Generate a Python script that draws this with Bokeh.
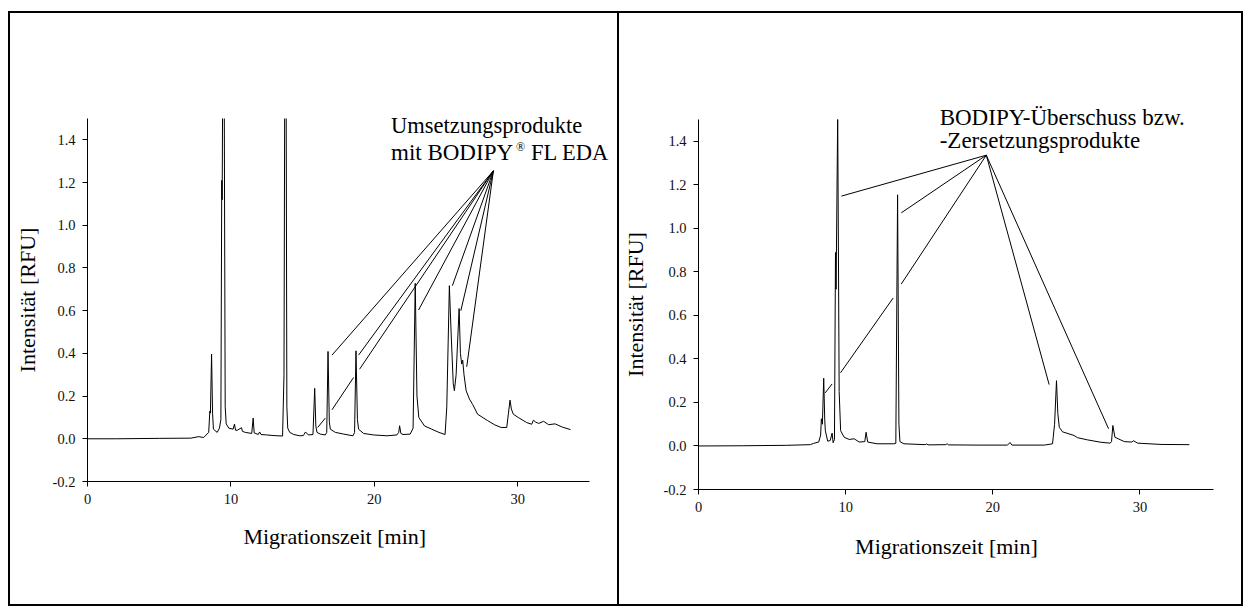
from bokeh.plotting import figure
from bokeh.models import FixedTicker, NumeralTickFormatter, Label, Range1d
from bokeh.embed import file_html
from bokeh.resources import INLINE

# ---------------- data ----------------
x_ticks = [0, 10, 20, 30]
y_ticks = [-0.2, 0.0, 0.2, 0.4, 0.6, 0.8, 1.0, 1.2, 1.4]

# left electropherogram (time [min], intensity [RFU])
left_t = [0.0, 2.0, 5.0, 7.2, 7.75, 8.1, 8.45, 8.53, 8.57, 8.65, 8.72, 8.78, 9.04, 9.2, 9.3,
          9.36, 9.39, 9.44, 9.52, 9.6, 9.67, 9.85, 10.15, 10.25, 10.32, 10.44, 10.74, 10.8,
          11.0, 11.45, 11.55, 11.62, 11.9, 12.0, 12.1, 12.5, 13.0, 13.6, 13.7, 13.76, 13.84,
          13.9, 13.96, 14.1, 14.38, 14.8, 15.05, 15.2, 15.4, 15.72, 15.84, 15.92, 16.0, 16.23,
          16.58, 16.68, 16.77, 16.86, 16.93, 17.28, 17.86, 18.51, 18.62, 18.72, 18.82, 18.9,
          19.25, 19.95, 20.88, 21.57, 21.7, 21.76, 21.85, 22.0, 22.5, 22.7, 22.85, 22.97, 23.1,
          23.5, 24.0, 24.5, 24.93, 25.05, 25.23, 25.35, 25.5, 25.58, 25.7, 25.91, 26.0, 26.09,
          26.16, 26.25, 26.4, 26.63, 26.86, 27.2, 27.9, 28.4, 28.84, 29.23, 29.35, 29.46, 29.55,
          29.69, 30.03, 30.62, 30.97, 31.09, 31.25, 31.46, 31.8, 32.15, 32.6, 33.1, 33.68]
left_y = [0.0, 0.0, 0.002, 0.003, 0.01, 0.006, 0.03, 0.13, 0.12, 0.397, 0.12, 0.045, 0.03, 0.05, 0.09,
          1.21, 1.12, 1.9, 1.9, 0.15, 0.07, 0.05, 0.045, 0.069, 0.04, 0.04, 0.052, 0.035,
          0.03, 0.025, 0.097, 0.028, 0.02, 0.032, 0.02, 0.018, 0.015, 0.013, 0.3, 1.9, 1.9,
          0.15, 0.05, 0.03, 0.02, 0.014, 0.015, 0.032, 0.018, 0.02, 0.236, 0.06, 0.03, 0.022,
          0.018, 0.03, 0.409, 0.08, 0.045, 0.03, 0.022, 0.014, 0.03, 0.412, 0.09, 0.045,
          0.025, 0.018, 0.014, 0.018, 0.03, 0.061, 0.025, 0.02, 0.022, 0.05, 0.728, 0.2, 0.1,
          0.06, 0.045, 0.03, 0.02, 0.15, 0.717, 0.5, 0.26, 0.225, 0.3, 0.61, 0.4, 0.35,
          0.368, 0.3, 0.225, 0.186, 0.16, 0.115, 0.085, 0.065, 0.053, 0.053, 0.12, 0.181, 0.14,
          0.115, 0.1, 0.076, 0.068, 0.087, 0.078, 0.072, 0.082, 0.066, 0.07, 0.055, 0.043]

# right electropherogram
right_t = [0.0, 3.0, 6.0, 7.6, 7.83, 8.17, 8.3, 8.35, 8.42, 8.51, 8.58, 8.62, 8.78, 8.95, 9.08,
           9.15, 9.24, 9.31, 9.35, 9.46, 9.56, 9.66, 9.9, 10.24, 10.58, 10.92, 11.3, 11.39,
           11.5, 12.14, 13.27, 13.41, 13.53, 13.62, 13.69, 13.96, 15.4, 15.5, 15.6, 16.8, 16.9,
           17.0, 19.0, 21.0, 21.17, 21.3, 23.5, 24.06, 24.2, 24.33, 24.42, 24.52, 24.74, 25.53,
           25.76, 26.44, 27.35, 27.98, 28.07, 28.16, 28.3, 28.94, 29.45, 29.57, 29.84, 31.43, 33.36]
right_y = [0.0, 0.001, 0.003, 0.006, 0.012, 0.018, 0.05, 0.125, 0.1, 0.311, 0.12, 0.07, 0.022, 0.025, 0.059,
           0.015, 0.03, 0.889, 0.72, 1.52, 0.25, 0.07, 0.04, 0.03, 0.033, 0.018, 0.02, 0.063,
           0.018, 0.01, 0.01, 0.012, 1.154, 0.1, 0.02, 0.01, 0.006, 0.009, 0.005, 0.006, 0.01,
           0.005, 0.004, 0.004, 0.016, 0.004, 0.004, 0.01, 0.1, 0.30, 0.15, 0.086, 0.065, 0.048,
           0.038, 0.028, 0.017, 0.013, 0.02, 0.094, 0.04, 0.02, 0.018, 0.024, 0.013, 0.007, 0.006]

# annotation leader lines (data coordinates)
left_ann_x0 = [28.30, 28.30, 28.30, 18.55, 16.58, 28.30, 28.30, 28.30, 28.30]
left_ann_y0 = [1.255, 1.255, 1.255, 0.287, 0.097, 1.255, 1.255, 1.255, 1.255]
left_ann_x1 = [17.05, 18.90, 18.97, 17.05, 16.05, 23.08, 25.44, 26.03, 26.44]
left_ann_y1 = [0.392, 0.392, 0.326, 0.136, 0.053, 0.603, 0.717, 0.600, 0.337]

right_ann_x0 = [19.56, 19.56, 19.56, 13.23, 9.08, 19.56, 19.56]
right_ann_y0 = [1.336, 1.336, 1.336, 0.680, 0.285, 1.336, 1.336]
right_ann_x1 = [9.71, 13.78, 13.78, 9.65, 8.61, 23.83, 27.87]
right_ann_y1 = [1.148, 1.071, 0.744, 0.336, 0.244, 0.282, 0.079]

x_label = "Migrationszeit [min]"
y_label = "Intensität [RFU]"
left_text = ["Umsetzungsprodukte", "mit BODIPY", "®", "FL EDA"]
right_text = ["BODIPY-Überschuss bzw.", "-Zersetzungsprodukte"]

FONT = "Liberation Serif"


def make_panel(width, height, mbl, mbr, mbt, mbb, ylab_standoff, styles):
    p = figure(width=width, height=height,
               x_range=Range1d(0, 35), y_range=Range1d(-0.2, 1.5),
               output_backend="svg", toolbar_location=None,
               min_border_left=mbl, min_border_right=mbr,
               min_border_top=mbt, min_border_bottom=mbb,
               y_axis_label=y_label,
               styles=styles)
    p.xgrid.visible = False
    p.ygrid.visible = False
    p.outline_line_color = None
    p.background_fill_color = "white"
    p.border_fill_color = "white"
    p.xaxis.ticker = FixedTicker(ticks=x_ticks)
    p.yaxis.ticker = FixedTicker(ticks=y_ticks)
    p.xaxis.formatter = NumeralTickFormatter(format="0")
    p.yaxis.formatter = NumeralTickFormatter(format="0.0")
    for ax in (p.xaxis[0], p.yaxis[0]):
        ax.axis_line_color = "black"
        ax.axis_line_width = 1
        ax.major_tick_line_color = "black"
        ax.major_tick_out = 5
        ax.major_tick_in = 0
        ax.minor_tick_line_color = None
        ax.major_label_text_font = FONT
        ax.major_label_text_font_size = "14.5px"
        ax.major_label_text_color = "#111111"
        ax.major_label_standoff = 7
        ax.axis_label_text_font = FONT
        ax.axis_label_text_font_size = "22px"
        ax.axis_label_text_font_style = "normal"
        ax.axis_label_text_color = "black"
    p.yaxis[0].axis_label_standoff = ylab_standoff
    return p


def add_text(p, x, y, text, size, x_offset=0, y_offset=0, side="above",
             align="left", baseline="alphabetic"):
    # placed in a side panel so that it is not clipped to the frame;
    # the position is still given in data coordinates of the plot
    p.add_layout(Label(x=x, y=y, x_offset=x_offset, y_offset=y_offset, text=text,
                       text_font=FONT, text_font_size=size, text_baseline=baseline,
                       text_align=align, text_color="black"), side)


def box_style(left, top):
    return {"position": "absolute", "left": f"{left}px", "top": f"{top}px",
            "outline": "2px solid black", "outline-offset": "0px"}


# left panel
pl = make_panel(607, 591, 77, 28, 105, 123, 10, box_style(10, 13))
pl.line(left_t, left_y, line_color="black", line_width=1)
pl.segment(left_ann_x0, left_ann_y0, left_ann_x1, left_ann_y1, line_color="black", line_width=1)
add_text(pl, 21.16, 1.467, left_text[0], "22.5px")
add_text(pl, 21.16, 1.342, left_text[1], "23px")
add_text(pl, 21.16, 1.342, left_text[2], "12px", x_offset=125, y_offset=5)
add_text(pl, 21.16, 1.342, left_text[3], "22.5px", x_offset=140)
add_text(pl, 17.24, -0.459, x_label, "22px", side="below", align="center", baseline="middle")

# right panel
pr = make_panel(622, 591, 79, 28, 106, 115, 13, box_style(619, 13))
pr.line(right_t, right_y, line_color="black", line_width=1)
pr.segment(right_ann_x0, right_ann_y0, right_ann_x1, right_ann_y1, line_color="black", line_width=1)
add_text(pr, 16.39, 1.509, right_text[0], "23px")
add_text(pr, 16.39, 1.402, right_text[1], "23px")
add_text(pr, 16.85, -0.462, x_label, "22px", side="below", align="center", baseline="middle")

open("out.html", "w").write(file_html([pl, pr], INLINE))
